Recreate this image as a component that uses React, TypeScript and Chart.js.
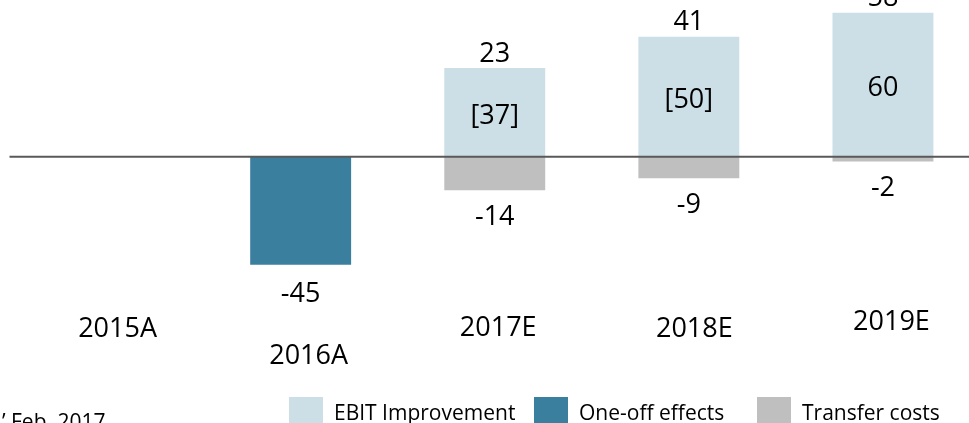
import React, { useEffect, useRef } from "react";
import { Chart, registerables } from "chart.js";

Chart.register(...registerables);

// ---- data ----
const categories = ["2015A", "2016A", "2017E", "2018E", "2019E"];
const ebitImprovement: (number | null)[] = [null, null, 37, 50, 60];
const oneOffEffects: (number | null)[] = [null, -45, null, null, null];
const transferCosts: (number | null)[] = [null, null, -14, -9, -2];
const ebitInsideLabels = ["", "", "[37]", "[50]", "60"];
const seriesNames = ["EBIT Improvement", "One-off effects", "Transfer costs"];
const footnote = "\u2019 Feb. 2017";

// ---- styles ----
const COLORS = ["#CCDFE7", "#3A7F9E", "#BFBFBF"];
const FONT = '"Open Sans", "Liberation Sans", sans-serif';
const BIG = 27;
const SMALL = 21;
// layout of category labels (staggered as in the slide)
const catLabelDx = [11, 8, 3.5, 5.5, 8.5];
const catLabelCy = [327, 354, 326, 327, 320];
const legendBoxX = [289, 534, 757];

const labelPlugin = {
  id: "slideLabels",
  afterDatasetsDraw(chart: any) {
    const { ctx, chartArea } = chart;
    const y = chart.scales.y;
    const zero = y.getPixelForValue(0);
    ctx.save();
    // zero line
    ctx.strokeStyle = "#595959";
    ctx.lineWidth = 2;
    ctx.beginPath();
    ctx.moveTo(chartArea.left, zero);
    ctx.lineTo(chart.width, zero);
    ctx.stroke();

    ctx.fillStyle = "#000";
    ctx.textAlign = "center";
    ctx.textBaseline = "alphabetic";
    ctx.font = `${BIG}px ${FONT}`;
    const half = BIG * 0.357;

    const mEbit = chart.getDatasetMeta(0);
    const mOne = chart.getDatasetMeta(1);
    const mTr = chart.getDatasetMeta(2);
    categories.forEach((_, i) => {
      const e = ebitImprovement[i];
      const t = transferCosts[i];
      const o = oneOffEffects[i];
      if (e != null) {
        const el = mEbit.data[i];
        const mid = (el.y + el.base) / 2;
        ctx.fillText(ebitInsideLabels[i], el.x, mid + 2 + half);
        const net = e + (t ?? 0);
        ctx.fillText(String(net), el.x, el.y - 16 + half);
      }
      if (t != null) {
        const el = mTr.data[i];
        ctx.fillText(String(t), el.x, el.y + 25 + half);
      }
      if (o != null) {
        const el = mOne.data[i];
        ctx.fillText(String(o), el.x, el.y + 28 + half);
      }
      const cx = chart.scales.x.getPixelForValue(i);
      ctx.fillText(categories[i], cx + catLabelDx[i], catLabelCy[i] + half);
    });

    // legend
    ctx.font = `${SMALL}px ${FONT}`;
    ctx.textAlign = "left";
    seriesNames.forEach((name, k) => {
      ctx.fillStyle = COLORS[k];
      ctx.fillRect(legendBoxX[k], 397, 34, 28);
      ctx.fillStyle = "#000";
      ctx.fillText(name, legendBoxX[k] + 45, 420);
    });
    // footnote (cut by the slide edge)
    const w = ctx.measureText("\u2019 ").width;
    ctx.fillText(footnote, 11 - w, 429);
    ctx.restore();
  },
};

export default function App() {
  const ref = useRef<HTMLCanvasElement | null>(null);
  useEffect(() => {
    document.body.style.margin = "0";
    document.body.style.overflow = "hidden";
    document.documentElement.style.overflow = "hidden";
    const chart = new Chart(ref.current as HTMLCanvasElement, {
      type: "bar",
      data: {
        labels: categories,
        datasets: [
          { label: seriesNames[0], data: ebitImprovement, backgroundColor: COLORS[0] },
          { label: seriesNames[1], data: oneOffEffects, backgroundColor: COLORS[1] },
          { label: seriesNames[2], data: transferCosts, backgroundColor: COLORS[2] },
        ] as any,
      },
      options: {
        responsive: false,
        animation: false,
        datasets: { bar: { barPercentage: 0.52, categoryPercentage: 1, borderWidth: 0 } },
        layout: { padding: { left: 9.5, right: 0, top: 0, bottom: 0 } },
        plugins: { legend: { display: false }, tooltip: { enabled: false } },
        scales: {
          x: { stacked: true, display: false },
          y: { stacked: true, display: false, min: -111, max: 65.3 },
        },
      } as any,
      plugins: [labelPlugin],
    });
    return () => chart.destroy();
  }, []);
  return (
    <div style={{ width: 980, height: 423, overflow: "hidden" }}>
      <canvas ref={ref} width={980} height={423} style={{ display: "block" }} />
    </div>
  );
}
